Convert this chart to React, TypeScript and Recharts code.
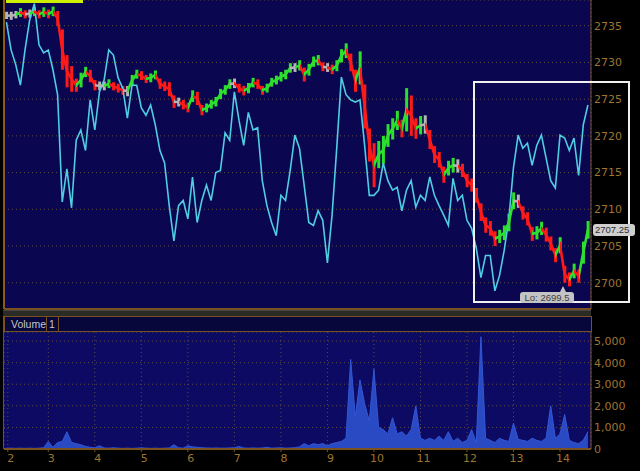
import React from 'react';
import { ComposedChart, Line, Bar, Cell, Area, XAxis, YAxis, CartesianGrid } from 'recharts';

// session time in days (x position)
const times = [
  2.1, 2.2, 2.3, 2.4, 2.5, 2.6, 2.7, 2.8, 2.9, 3.0,
  3.1, 3.2, 3.3, 3.4, 3.5, 3.6, 3.7, 3.8, 3.9, 4.0,
  4.1, 4.2, 4.3, 4.4, 4.5, 4.6, 4.7, 4.8, 4.9, 5.0,
  5.1, 5.2, 5.3, 5.4, 5.5, 5.6, 5.7, 5.8, 5.9, 6.0,
  6.1, 6.2, 6.3, 6.4, 6.5, 6.6, 6.7, 6.8, 6.9, 7.0,
  7.1, 7.2, 7.3, 7.4, 7.5, 7.6, 7.7, 7.8, 7.9, 8.0,
  8.1, 8.2, 8.3, 8.4, 8.5, 8.6, 8.7, 8.8, 8.9, 9.0,
  9.1, 9.2, 9.3, 9.4, 9.5, 9.6, 9.7, 9.8, 9.9, 10.0,
  10.1, 10.2, 10.3, 10.4, 10.5, 10.6, 10.7, 10.8, 10.9, 11.0,
  11.1, 11.2, 11.3, 11.4, 11.5, 11.6, 11.7, 11.8, 11.9, 12.0,
  12.1, 12.2, 12.3, 12.4, 12.5, 12.6, 12.7, 12.8, 12.9, 13.0,
  13.1, 13.2, 13.3, 13.4, 13.5, 13.6, 13.7, 13.8, 13.9, 14.0,
  14.1, 14.2, 14.3, 14.4, 14.5, 14.6,
];

// cyan indicator line, on the price scale
const cyanLine = [
  2735.5, 2731.7, 2729.7, 2726.9, 2731.7, 2735.8, 2738.0, 2732.4, 2731.3, 2731.7,
  2729.0, 2725.6, 2711.0, 2715.5, 2710.2, 2719.4, 2720.8, 2718.0, 2724.9, 2720.8,
  2726.0, 2727.6, 2731.7, 2731.0, 2727.9, 2726.5, 2722.4, 2726.9, 2726.9, 2723.8,
  2722.8, 2724.2, 2721.5, 2718.0, 2716.3, 2710.5, 2705.7, 2710.5, 2711.2, 2708.7,
  2714.4, 2708.2, 2711.2, 2713.3, 2711.2, 2715.0, 2715.3, 2720.4, 2719.4, 2726.0,
  2722.1, 2718.7, 2723.2, 2720.8, 2721.1, 2713.9, 2710.5, 2708.2, 2706.4, 2711.9,
  2711.2, 2715.3, 2720.1, 2718.3, 2713.3, 2708.2, 2707.8, 2709.8, 2708.5, 2702.7,
  2709.2, 2718.3, 2728.0, 2725.6, 2724.9, 2724.6, 2724.9, 2718.7, 2711.9, 2711.9,
  2712.6, 2716.3, 2713.9, 2712.6, 2713.0, 2709.8, 2712.6, 2713.9, 2710.3, 2711.9,
  2711.2, 2714.4, 2711.9, 2710.5, 2709.2, 2707.8, 2714.2, 2711.2, 2711.9, 2708.5,
  2707.4, 2704.7, 2700.7, 2703.7, 2703.7, 2698.9, 2701.0, 2704.4, 2708.7, 2715.7,
  2720.1, 2718.3, 2719.0, 2716.0, 2718.7, 2720.1, 2717.0, 2713.9, 2712.9, 2720.1,
  2719.7, 2718.0, 2719.7, 2714.6, 2721.5, 2724.2,
];

const priceHigh = [
  2736.9, 2736.9, 2737.0, 2737.4, 2737.1, 2737.2, 2737.5, 2737.1, 2737.5, 2737.2,
  2737.6, 2737.0, 2734.5, 2731.0, 2729.5, 2727.8, 2728.6, 2729.4, 2729.0, 2727.6,
  2727.4, 2727.4, 2727.7, 2727.3, 2727.1, 2726.8, 2726.8, 2728.3, 2729.0, 2728.8,
  2728.3, 2728.5, 2728.9, 2727.8, 2727.4, 2727.3, 2725.5, 2725.2, 2724.9, 2724.5,
  2726.2, 2726.0, 2724.2, 2724.4, 2724.9, 2725.3, 2726.4, 2726.9, 2727.7, 2727.8,
  2727.1, 2726.8, 2727.2, 2727.9, 2727.7, 2726.8, 2727.1, 2727.9, 2728.2, 2728.7,
  2729.0, 2729.9, 2729.9, 2730.3, 2729.3, 2729.8, 2730.8, 2731.0, 2730.0, 2729.9,
  2729.7, 2730.3, 2731.8, 2732.6, 2731.2, 2729.0, 2731.5, 2727.0, 2721.0, 2719.0,
  2719.3, 2720.0, 2721.6, 2722.4, 2723.4, 2722.2, 2726.5, 2725.5, 2722.4, 2722.7,
  2722.8, 2720.8, 2718.6, 2717.8, 2715.8, 2716.6, 2717.0, 2716.8, 2716.2, 2714.8,
  2714.2, 2712.9, 2710.8, 2708.9, 2708.4, 2707.0, 2707.2, 2707.8, 2709.4, 2712.3,
  2712.0, 2710.4, 2709.6, 2707.6, 2707.7, 2708.3, 2707.5, 2706.3, 2704.7, 2706.2,
  2702.3, 2701.4, 2702.6, 2701.8, 2705.6, 2708.4,
];

const priceLow = [
  2735.9, 2735.8, 2736.0, 2736.2, 2736.0, 2736.1, 2736.3, 2736.0, 2736.2, 2736.0,
  2736.3, 2735.0, 2729.0, 2726.6, 2726.0, 2726.0, 2726.6, 2728.0, 2727.3, 2726.2,
  2726.2, 2726.2, 2726.5, 2726.2, 2725.9, 2725.6, 2725.4, 2726.8, 2727.8, 2727.6,
  2727.2, 2727.3, 2727.7, 2726.4, 2726.1, 2725.4, 2723.8, 2724.0, 2723.6, 2723.2,
  2724.6, 2724.2, 2722.8, 2723.2, 2723.7, 2724.0, 2725.0, 2725.6, 2726.4, 2726.5,
  2725.9, 2725.5, 2725.8, 2726.6, 2726.4, 2725.6, 2725.9, 2726.7, 2727.0, 2727.4,
  2727.7, 2728.6, 2728.7, 2728.9, 2727.4, 2728.2, 2729.4, 2729.6, 2728.8, 2728.7,
  2728.4, 2728.8, 2730.0, 2730.6, 2728.8, 2726.0, 2727.0, 2721.0, 2716.5, 2713.0,
  2715.6, 2716.2, 2718.5, 2719.5, 2720.8, 2719.8, 2720.6, 2720.0, 2719.6, 2720.2,
  2720.3, 2718.2, 2716.3, 2715.7, 2713.6, 2714.6, 2715.0, 2715.0, 2714.4, 2713.0,
  2712.4, 2710.9, 2708.4, 2706.8, 2706.4, 2705.0, 2705.4, 2705.8, 2707.0, 2710.0,
  2710.2, 2708.6, 2707.8, 2705.7, 2705.9, 2706.5, 2705.6, 2704.4, 2702.8, 2704.0,
  2700.0, 2699.5, 2700.6, 2700.0, 2702.6, 2706.0,
];

const volume = [
  40, 40, 30, 40, 30, 40, 30, 40, 60, 350,
  80, 300, 350, 800, 300, 250, 200, 120, 80, 60,
  150, 50, 40, 60, 40, 30, 40, 30, 40, 60,
  40, 30, 40, 30, 40, 50, 200, 60, 40, 150,
  100, 80, 60, 50, 40, 50, 40, 40, 50, 60,
  120, 50, 40, 50, 40, 50, 80, 40, 50, 60,
  40, 50, 60, 100, 250, 150, 250, 200, 250, 150,
  250, 300, 350, 500, 4150, 1500, 3200, 2100, 1300, 3700,
  1000, 900, 700, 1450, 700, 800, 600, 900, 2000, 500,
  400, 500, 400, 600, 400, 800, 350, 500, 300, 400,
  900, 300, 5200, 500, 400, 300, 500, 400, 350, 1200,
  450, 400, 350, 500, 400, 350, 500, 2000, 500, 700,
  1600, 400, 300, 250, 400, 800,
];

const dayTicks = [2.13, 3, 4, 5, 6, 7, 8, 9, 10, 11, 12, 13, 14];
const dayLabels = ['2', '3', '4', '5', '6', '7', '8', '9', '10', '11', '12', '13', '14'];
const priceTicks = [2700, 2705, 2710, 2715, 2720, 2725, 2730, 2735];
const volumeTicks = [0, 1000, 2000, 3000, 4000, 5000];
const lastPrice = '2707.25';
const lowLabel = 'Lo: 2699.5';

const priceData = times.map((t, i) => ({
  t,
  cyan: cyanLine[i],
  range: [priceLow[i], priceHigh[i]],
  mid: (priceLow[i] + priceHigh[i]) / 2,
}));
const volumeData = times.map((t, i) => ({ t, vol: volume[i] }));

const axisBrown = '#7a5222';
const labelBrown = '#9e7432';
const gridColor = '#5e4c3e';
const UP = '#2ee02e';
const DOWN = '#ff1a1a';
const FLAT = '#b4b4b4';

function barColor(i: number) {
  if (i === 0) return FLAT;
  const diff = priceData[i].mid - priceData[i - 1].mid;
  if (diff > 0.15) return UP;
  if (diff < -0.15) return DOWN;
  return FLAT;
}

// hard-stop gradient so each segment of the price path takes its bar colour
const span = times[times.length - 1] - times[0];
const gradStops: { off: number; color: string }[] = [];
for (let i = 1; i < times.length; i++) {
  const c = barColor(i);
  gradStops.push({ off: (times[i - 1] - times[0]) / span, color: c });
  gradStops.push({ off: (times[i] - times[0]) / span, color: c });
}

const App = () => {
  return (
    <div style={{ position: 'relative', width: 640, height: 471, background: '#000', overflow: 'hidden', fontFamily: '"DejaVu Sans", sans-serif' }}>
      <style>{'body{margin:0}'}</style>
      <svg width={0} height={0} style={{ position: 'absolute' }}>
        <defs>
          <linearGradient id="priceStroke" x1="0" y1="0" x2="1" y2="0">
            {gradStops.map((s, i) => (
              <stop key={i} offset={s.off} stopColor={s.color} />
            ))}
          </linearGradient>
        </defs>
      </svg>

      <div style={{ position: 'absolute', left: 0, top: 0 }}>
        <ComposedChart width={640} height={310} data={priceData} margin={{ top: 0, right: 0, bottom: 0, left: 4 }}>
          <CartesianGrid fill="#0a0650" stroke={gridColor} strokeDasharray="1 3" />
          <XAxis type="number" dataKey="t" domain={[2.048, 14.666]} ticks={dayTicks} allowDataOverflow
            tick={false} tickLine={false} height={1} axisLine={{ stroke: axisBrown, strokeWidth: 2 }} />
          <YAxis orientation="right" width={49} domain={[2696.42, 2738.5]} ticks={priceTicks} allowDataOverflow interval={0}
            tick={{ fill: labelBrown, fontSize: 11 }} tickSize={0} tickMargin={3} axisLine={{ stroke: axisBrown }} />
          <Line type="linear" dataKey="cyan" stroke="#4fcde3" strokeWidth={1.6} dot={false} isAnimationActive={false} />
          <Bar dataKey="range" barSize={3} isAnimationActive={false}>
            {priceData.map((d, i) => (
              <Cell key={i} fill={barColor(i)} />
            ))}
          </Bar>
          <Line type="linear" dataKey="mid" stroke="url(#priceStroke)" strokeWidth={2.6} dot={false} isAnimationActive={false} />
        </ComposedChart>
      </div>

      {/* panel left borders */}
      <div style={{ position: 'absolute', left: 3, top: 0, width: 2, height: 309, background: '#8a5a22' }} />
      <div style={{ position: 'absolute', left: 3, top: 316, width: 2, height: 133, background: '#7a5222' }} />

      {/* separator */}
      <div style={{ position: 'absolute', left: 3, top: 310, width: 588, height: 5, background: '#2b2b26', borderTop: '1px solid #444' }} />

      {/* volume header */}
      <div style={{ position: 'absolute', left: 4, top: 316, width: 586, height: 14, background: '#07073c', border: '1px solid #7a5222', color: '#c6c6c6', fontSize: 10.5, lineHeight: '14px', fontFamily: '"Liberation Sans", sans-serif' }}>
        <span style={{ position: 'absolute', left: 6 }}>Volume</span>
        <span style={{ position: 'absolute', left: 41, top: 0, width: 1, height: 14, background: '#7a5222' }} />
        <span style={{ position: 'absolute', left: 44 }}>1</span>
        <span style={{ position: 'absolute', left: 53, top: 0, width: 1, height: 14, background: '#7a5222' }} />
      </div>

      <div style={{ position: 'absolute', left: 0, top: 331 }}>
        <ComposedChart width={640} height={140} data={volumeData} margin={{ top: 1, right: 0, bottom: 0, left: 4 }}>
          <CartesianGrid fill="#0c0a62" stroke={gridColor} strokeDasharray="1 3" />
          <XAxis type="number" dataKey="t" domain={[2.048, 14.666]} ticks={dayTicks} allowDataOverflow interval={0}
            tickFormatter={(v: number) => dayLabels[dayTicks.indexOf(v)]}
            tick={{ fill: labelBrown, fontSize: 11, dx: 3 }} tickSize={3} tickMargin={2}
            tickLine={{ stroke: axisBrown }} height={22} axisLine={{ stroke: axisBrown, strokeWidth: 2 }} />
          <YAxis orientation="right" width={49} domain={[0, 5420]} ticks={volumeTicks} allowDataOverflow interval={0}
            tickFormatter={(v: number) => v.toLocaleString('en-US')}
            tick={{ fill: labelBrown, fontSize: 11 }} tickSize={0} tickMargin={3} axisLine={{ stroke: axisBrown }} />
          <Area type="linear" dataKey="vol" stroke="#3356d6" strokeWidth={1} fill="#2a4ac4" fillOpacity={1} dot={false} isAnimationActive={false} />
        </ComposedChart>
      </div>

      {/* lime marker at top left */}
      <div style={{ position: 'absolute', left: 6, top: 0, width: 77, height: 3, background: '#ccf000' }} />

      {/* highlight box */}
      <div style={{ position: 'absolute', left: 473, top: 81, width: 157, height: 222, border: '2px solid #f0f0f0', boxSizing: 'border-box' }} />

      {/* last price tag */}
      <div style={{ position: 'absolute', left: 593, top: 224, width: 42, height: 12, background: '#cfcfcf', borderRadius: 3, color: '#2e2e2e', fontSize: 9.5, lineHeight: '12px', paddingLeft: 2, boxSizing: 'border-box', whiteSpace: 'nowrap', fontFamily: '"Liberation Sans", sans-serif' }}>
        {lastPrice}
      </div>

      {/* low tag */}
      <div style={{ position: 'absolute', left: 560, top: 286, width: 0, height: 0, borderLeft: '3px solid transparent', borderRight: '3px solid transparent', borderBottom: '6px solid #c4c4c4' }} />
      <div style={{ position: 'absolute', left: 520, top: 292, width: 54, height: 11, background: '#c4c4c4', borderRadius: 3, color: '#404040', fontSize: 9.5, lineHeight: '11px', textAlign: 'center', whiteSpace: 'nowrap', fontFamily: '"Liberation Sans", sans-serif' }}>
        {lowLabel}
      </div>
    </div>
  );
};

export default App;
